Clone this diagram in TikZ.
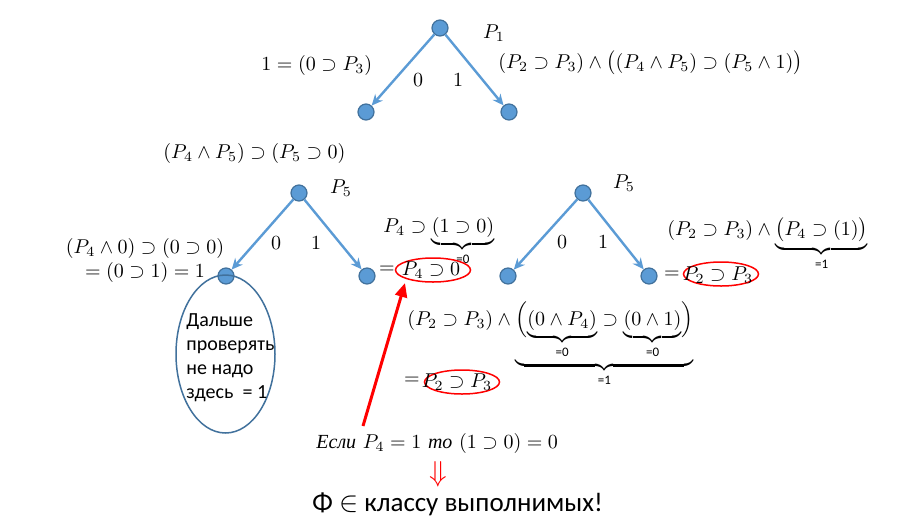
\documentclass[tikz,border=0pt]{standalone}
\usepackage{amsmath,amssymb}
\usepackage{fontspec}
\newfontfamily\calib{Carlito}
\newfontfamily\russerif{Liberation Serif}
\usetikzlibrary{arrows.meta,shapes.geometric}
\definecolor{nodeblue}{RGB}{91,155,213}
\definecolor{nodeedge}{RGB}{65,113,156}
\definecolor{arrowblue}{RGB}{91,155,213}
\definecolor{ellblue}{RGB}{65,113,156}
\newcommand{\ruit}[1]{\text{\russerif\itshape #1}}
\newcommand{\bl}[1]{\text{\calib\fontsize{6.5}{7}\selectfont #1}}
\tikzset{
  vert/.style={circle, fill=nodeblue, draw=nodeedge, line width=0.6pt, minimum size=8pt, inner sep=0pt},
  treeedge/.style={draw=arrowblue, line width=1.2pt, -{Stealth[length=5.5pt,width=5pt]}},
  redov/.style={ellipse, draw=red, line width=0.75pt, minimum width=37.5pt, minimum height=12pt, inner sep=0pt},
  lbl/.style={inner sep=0pt, font=\fontsize{10}{12}\selectfont},
  redarrow/.style={draw=red, line width=1.5pt, -{Triangle[length=7pt,width=6pt]}}
}
\begin{document}
\begin{tikzpicture}[x=0.5pt,y=-0.5pt]
\useasboundingbox (0,0) rectangle (899,531);
\fill[white] (0,0) rectangle (899,531);

% tree 1
\node[vert] (r1) at (440,28) {};
\node[vert] (r1l) at (366,112) {};
\node[vert] (r1r) at (509,112) {};
\draw[treeedge] (r1) -- (r1l);
\draw[treeedge] (r1) -- (r1r);
\node[lbl] (p1) at (494,33) {$P_1$};
\node[lbl] (z1) at (418,80) {$0$};
\node[lbl] (o1) at (458,80) {$1$};
\node[lbl, anchor=base west] (t1l) at (261,70) {$1=(0\supset P_3)$};
\node[lbl, anchor=base west] (t1r) at (498,68) {$(P_2\supset P_3)\wedge\bigl((P_4\wedge P_5)\supset(P_5\wedge 1)\bigr)$};

% tree 2
\node[vert] (r2) at (299,193) {};
\node[vert] (r2l) at (226,276) {};
\node[vert] (r2r) at (367,276) {};
\draw[treeedge] (r2) -- (r2l);
\draw[treeedge] (r2) -- (r2r);
\node[lbl] (p5a) at (341,188) {$P_5$};
\node[lbl] (z2) at (276,243) {$0$};
\node[lbl] (o2) at (316,243) {$1$};
\node[lbl, anchor=base west] (t2top) at (163,158) {$(P_4\wedge P_5)\supset(P_5\supset 0)$};
\node[lbl, anchor=base] (t2l1) at (145,253) {$(P_4\wedge 0)\supset(0\supset 0)$};
\node[lbl, anchor=base] (t2l2) at (145,277) {$=(0\supset 1)=1$};
\node[lbl, anchor=base west] (t2r1) at (383,232) {$P_4\supset\underbrace{(1\supset 0)}_{\bl{=0}}$};
\node[lbl] (eq2) at (387,270) {$=$};
\node[redov] (ov2) at (433,270) {};
\node[lbl] (t2r2) at (431,270) {$P_4\supset 0$};

% big ellipse
\node[ellipse, draw=ellblue, line width=0.75pt, minimum width=49.5pt, minimum height=79pt, inner sep=0pt] (bigov) at (225.5,354) {};
\node[inner sep=0pt, anchor=west, align=left, font=\calib\fontsize{10}{12}\selectfont] (note) at (186,358)
  {Дальше\\проверять\\не надо\\здесь~ = 1};

% tree 3
\node[vert] (r3) at (583,193) {};
\node[vert] (r3l) at (508,276) {};
\node[vert] (r3r) at (649,276) {};
\draw[treeedge] (r3) -- (r3l);
\draw[treeedge] (r3) -- (r3r);
\node[lbl] (p5b) at (624,183) {$P_5$};
\node[lbl] (z3) at (562,242) {$0$};
\node[lbl] (o3) at (603,242) {$1$};
\node[lbl, anchor=base west] (t3r1) at (667,235) {$(P_2\supset P_3)\wedge\underbrace{\bigl(P_4\supset(1)\bigr)}_{\bl{=1}}$};
\node[lbl] (eq3) at (672,275) {$=$};
\node[redov] (ov3) at (721,274) {};
\node[lbl] (t3r2) at (718,275) {$P_2\supset P_3$};

% middle expression
\node[lbl, anchor=base west] (tm1) at (407,325) {$(P_2\supset P_3)\wedge\underbrace{\Bigl(\underbrace{(0\wedge P_4)}_{\bl{=0}}\supset\underbrace{(0\wedge 1)}_{\bl{=0}}\Bigr)}_{\bl{=1}}$};
\node[lbl] (eqm) at (412,381) {$=$};
\node[redov] (ovm) at (462,382) {};
\node[lbl] (tm2) at (457,382) {$P_2\supset P_3$};

% bottom
\coordinate (rs) at (363,426);
\coordinate (re) at (405,283);
\draw[redarrow] (rs) -- (re);
\node[lbl, anchor=base west] (cond) at (316,448) {$\ruit{Если}\ P_4=1\ \ruit{то}\ (1\supset 0)=0$};
\node[inner sep=0pt, text=red, font=\fontsize{15}{16}\selectfont] (imp) at (438,474) {$\Downarrow$};
\node[inner sep=0pt, anchor=base west, font=\calib\fontsize{13.5}{16}\selectfont] (concl) at (312,511) {Φ $\in$ классу выполнимых!};
\end{tikzpicture}
\end{document}
